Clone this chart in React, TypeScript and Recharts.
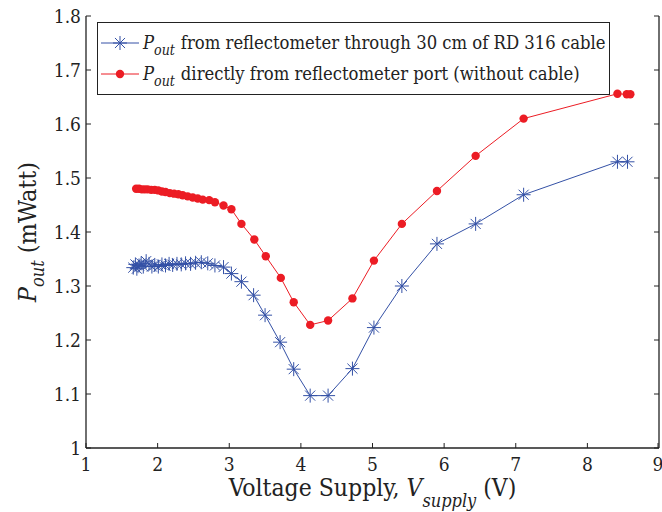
import { LineChart, Line, XAxis, YAxis, Legend } from "recharts";

const xTicks = [1, 2, 3, 4, 5, 6, 7, 8, 9];
const yTicks = [1, 1.1, 1.2, 1.3, 1.4, 1.5, 1.6, 1.7, 1.8];

const cableVolts = [
  1.66, 1.69, 1.71, 1.74, 1.77, 1.8, 1.84, 1.88, 1.92, 1.96, 2.01, 2.06, 2.11, 2.16, 2.21, 2.27, 2.33,
  2.39, 2.46, 2.53, 2.61, 2.7, 2.8, 2.92, 3.03, 3.17, 3.34, 3.5, 3.71, 3.9, 4.13, 4.38, 4.72, 5.02,
  5.41, 5.9, 6.44, 7.11, 8.42, 8.56,
];
const cablePower = [
  1.334, 1.34, 1.332, 1.338, 1.342, 1.336, 1.346, 1.341, 1.336, 1.339, 1.336, 1.34, 1.338, 1.341,
  1.339, 1.341, 1.34, 1.342, 1.341, 1.343, 1.344, 1.342, 1.338, 1.335, 1.323, 1.308, 1.283, 1.246,
  1.196, 1.146, 1.097, 1.097, 1.147, 1.223, 1.3, 1.378, 1.415, 1.469, 1.53, 1.53,
];

const portVolts = [
  1.7, 1.74, 1.78, 1.82, 1.86, 1.91, 1.96, 2.01, 2.06, 2.11, 2.17, 2.23, 2.29, 2.35, 2.42, 2.49, 2.56,
  2.63, 2.72, 2.8, 2.92, 3.03, 3.17, 3.35, 3.51, 3.72, 3.9, 4.13, 4.38, 4.72, 5.02, 5.41, 5.9, 6.44,
  7.11, 8.42, 8.55, 8.6,
];
const portPower = [
  1.48, 1.48, 1.479, 1.479, 1.479, 1.478, 1.478, 1.477, 1.475, 1.474, 1.472, 1.471, 1.47, 1.468,
  1.466, 1.464, 1.462, 1.46, 1.459, 1.455, 1.449, 1.442, 1.415, 1.386, 1.355, 1.315, 1.27, 1.228,
  1.236, 1.277, 1.347, 1.415, 1.476, 1.541, 1.61, 1.656, 1.655, 1.655,
];

const cableData = cableVolts.map((v, i) => ({ v, p: cablePower[i] }));
const portData = portVolts.map((v, i) => ({ v, p: portPower[i] }));

const BLUE = "#3451a6";
const RED = "#ec1c24";
const FONT = '"DejaVu Serif Condensed", "DejaVu Serif", serif';
const TXT = "#222";

function Star({ cx, cy, color = BLUE, r = 7 }: any) {
  if (cx == null || cy == null) return null;
  const d = r * 0.72;
  return (
    <g stroke={color} strokeWidth={1}>
      <line x1={cx - r} y1={cy} x2={cx + r} y2={cy} />
      <line x1={cx} y1={cy - r} x2={cx} y2={cy + r} />
      <line x1={cx - d} y1={cy - d} x2={cx + d} y2={cy + d} />
      <line x1={cx - d} y1={cy + d} x2={cx + d} y2={cy - d} />
    </g>
  );
}

function starDot(props: any) {
  return <Star key={props.key ?? `${props.cx}-${props.cy}`} cx={props.cx} cy={props.cy} />;
}

// inward-pointing ticks like matlab, with optional labels
function makeTick(side: "bottom" | "top" | "left" | "right", withLabel: boolean) {
  return (props: any) => {
    const { x, y, payload } = props;
    const len = 5;
    let line;
    if (side === "bottom") line = <line x1={x} y1={y} x2={x} y2={y - len} stroke={TXT} />;
    else if (side === "top") line = <line x1={x} y1={y} x2={x} y2={y + len} stroke={TXT} />;
    else if (side === "left") line = <line x1={x} y1={y} x2={x + len} y2={y} stroke={TXT} />;
    else line = <line x1={x} y1={y} x2={x - len} y2={y} stroke={TXT} />;
    const val = payload.value;
    const label = side === "left" ? String(Math.round(val * 10) / 10) : String(val);
    return (
      <g>
        {line}
        {withLabel && side === "bottom" && (
          <text x={x} y={y + 23} textAnchor="middle" style={{ fontFamily: FONT }} fontSize={19} fill={TXT}>
            {label}
          </text>
        )}
        {withLabel && side === "left" && (
          <text x={x - 5} y={y + 7} textAnchor="end" style={{ fontFamily: FONT }} fontSize={19} fill={TXT}>
            {label}
          </text>
        )}
      </g>
    );
  };
}

function XLabel({ viewBox }: any) {
  const cx = viewBox.x + viewBox.width / 2;
  return (
    <text x={cx} y={viewBox.y + 48} textAnchor="middle" style={{ fontFamily: FONT }} fontSize={24.5} fill={TXT}>
      <tspan>Voltage Supply, </tspan>
      <tspan fontStyle="italic">V</tspan>
      <tspan fontStyle="italic" fontSize={18} dy={11}>supply</tspan>
      <tspan dy={-11}> (V)</tspan>
    </text>
  );
}

function YLabel({ viewBox }: any) {
  const x = 36;
  const y = viewBox.y + viewBox.height / 2;
  return (
    <text
      x={x}
      y={y}
      textAnchor="middle"
      transform={`rotate(-90, ${x}, ${y})`}
      style={{ fontFamily: FONT }}
      fontSize={25}
      fill={TXT}
    >
      <tspan fontStyle="italic">P</tspan>
      <tspan fontStyle="italic" fontSize={18} dy={8}>out</tspan>
      <tspan dy={-8}>{"  (mWatt)"}</tspan>
    </text>
  );
}

const legendText: Record<string, string> = {
  cable: "from reflectometer through 30 cm of RD 316 cable",
  port: "directly from reflectometer port (without cable)",
};

function LegendBox({ payload }: any) {
  return (
    <div
      style={{
        border: "1px solid #222",
        background: "#fff",
        width: 513,
        height: 73,
        boxSizing: "border-box",
        padding: "4px 0 0 3px",
        fontFamily: FONT,
        fontSize: 18.3,
        color: TXT,
        lineHeight: "31px",
      }}
    >
      {(payload || []).map((item: any) => {
        const key = item.value;
        const isCable = key === "cable";
        return (
          <div key={key} style={{ display: "flex", alignItems: "center", whiteSpace: "nowrap", height: 31 }}>
            <svg width={40} height={20} style={{ marginRight: 2, flexShrink: 0 }}>
              <line x1={0} y1={10} x2={38} y2={10} stroke={item.color} strokeWidth={1} />
              {isCable ? <Star cx={19} cy={10} r={7} /> : <circle cx={19} cy={10} r={4.2} fill={RED} />}
            </svg>
            <span style={{ fontStyle: "italic" }}>P</span>
            <span style={{ fontStyle: "italic", fontSize: 14, position: "relative", top: 8, marginRight: 6 }}>out</span>
            <span>{legendText[key]}</span>
          </div>
        );
      })}
    </div>
  );
}

export default function App() {
  return (
    <div style={{ position: "absolute", left: 0, top: 0, background: "#fff" }}>
      <LineChart width={662} height={512} margin={{ top: 16, right: 0, bottom: 0, left: 0 }}>
        <XAxis
          xAxisId="bottom"
          type="number"
          dataKey="v"
          domain={[1, 9]}
          ticks={xTicks}
          allowDataOverflow
          height={64}
          tickSize={0}
          tickMargin={0}
          tickLine={false}
          axisLine={{ stroke: TXT, strokeWidth: 1.3 }}
          tick={makeTick("bottom", true)}
          label={<XLabel />}
        />
        <XAxis
          xAxisId="top"
          orientation="top"
          type="number"
          dataKey="v"
          domain={[1, 9]}
          ticks={xTicks}
          allowDataOverflow
          height={0}
          tickSize={0}
          tickMargin={0}
          tickLine={false}
          axisLine={{ stroke: TXT, strokeWidth: 1.3 }}
          tick={makeTick("top", false)}
        />
        <YAxis
          yAxisId="left"
          type="number"
          domain={[1, 1.8]}
          ticks={yTicks}
          allowDataOverflow
          width={86}
          tickSize={0}
          tickMargin={0}
          tickLine={false}
          axisLine={{ stroke: TXT, strokeWidth: 1.3 }}
          tick={makeTick("left", true)}
          label={<YLabel />}
        />
        <YAxis
          yAxisId="right"
          orientation="right"
          type="number"
          domain={[1, 1.8]}
          ticks={yTicks}
          allowDataOverflow
          width={3}
          tickSize={0}
          tickMargin={0}
          tickLine={false}
          axisLine={{ stroke: TXT, strokeWidth: 1.3 }}
          tick={makeTick("right", false)}
        />
        <Legend
          layout="horizontal"
          verticalAlign="middle"
          align="center"
          content={<LegendBox />}
          wrapperStyle={{ left: 97, top: 22, width: 513, height: 73 }}
        />
        <Line
          name="cable"
          data={cableData}
          xAxisId="bottom"
          yAxisId="left"
          dataKey="p"
          stroke={BLUE}
          strokeWidth={1}
          dot={starDot}
          activeDot={false}
          isAnimationActive={false}
        />
        <Line
          name="port"
          data={portData}
          xAxisId="bottom"
          yAxisId="left"
          dataKey="p"
          stroke={RED}
          strokeWidth={1}
          dot={{ r: 4.2, fill: RED, stroke: RED, strokeWidth: 0 }}
          activeDot={false}
          isAnimationActive={false}
        />
      </LineChart>
    </div>
  );
}
